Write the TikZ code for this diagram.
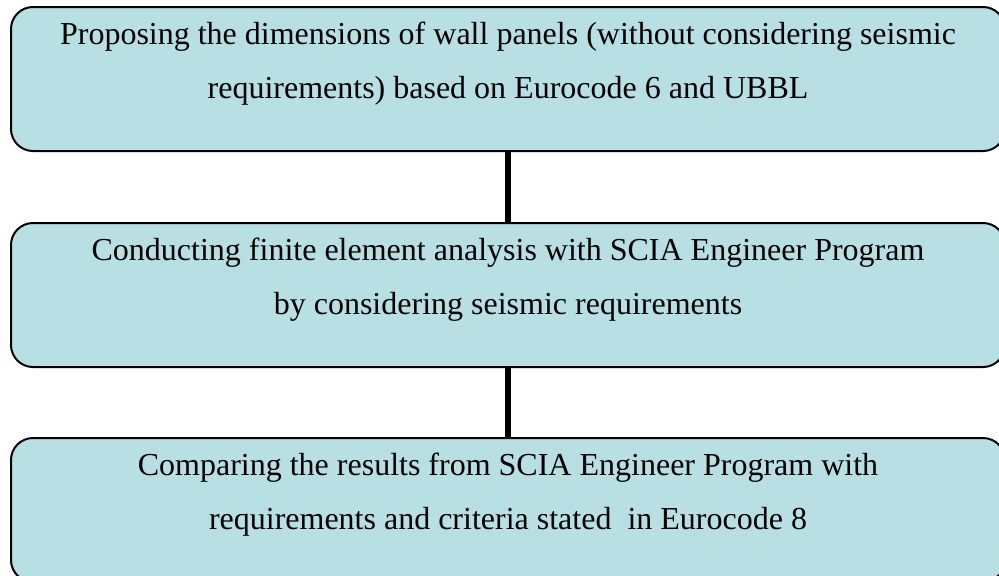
\documentclass[tikz,border=0pt]{standalone}
\usepackage{fontspec}
\setmainfont{Liberation Serif}
\usetikzlibrary{positioning}

\definecolor{panelblue}{RGB}{184,223,227}

\tikzset{
  stepbox/.style={draw, line width=1pt, fill=panelblue, rounded corners=11pt,
    minimum width=497pt, minimum height=72pt, inner sep=0pt},
  steptext/.style={font=\fontsize{16}{27}\selectfont, align=center, yshift=7.5pt},
  link/.style={line width=3pt}
}

\begin{document}
\begin{tikzpicture}
    \useasboundingbox (0,0) rectangle (499.5pt,-287.5pt);

    % the three stages
    \node[stepbox] (propose) at (254pt,-39.5pt) {};
    \node[stepbox, below=35pt of propose] (analyse) {};
    \node[stepbox, below=34.5pt of analyse] (compare) {};

    \node[steptext] (propose-txt) at (propose) {Proposing the dimensions of wall panels (without considering seismic\\requirements) based on Eurocode 6 and UBBL};
    \node[steptext] (analyse-txt) at (analyse) {Conducting finite element analysis with SCIA Engineer Program\\by considering seismic requirements};
    \node[steptext] (compare-txt) at (compare) {Comparing the results from SCIA Engineer Program with\\requirements and criteria stated\ \ in Eurocode 8};

    \draw[link] (propose) -- (analyse);
    \draw[link] (analyse) -- (compare);
\end{tikzpicture}
\end{document}
